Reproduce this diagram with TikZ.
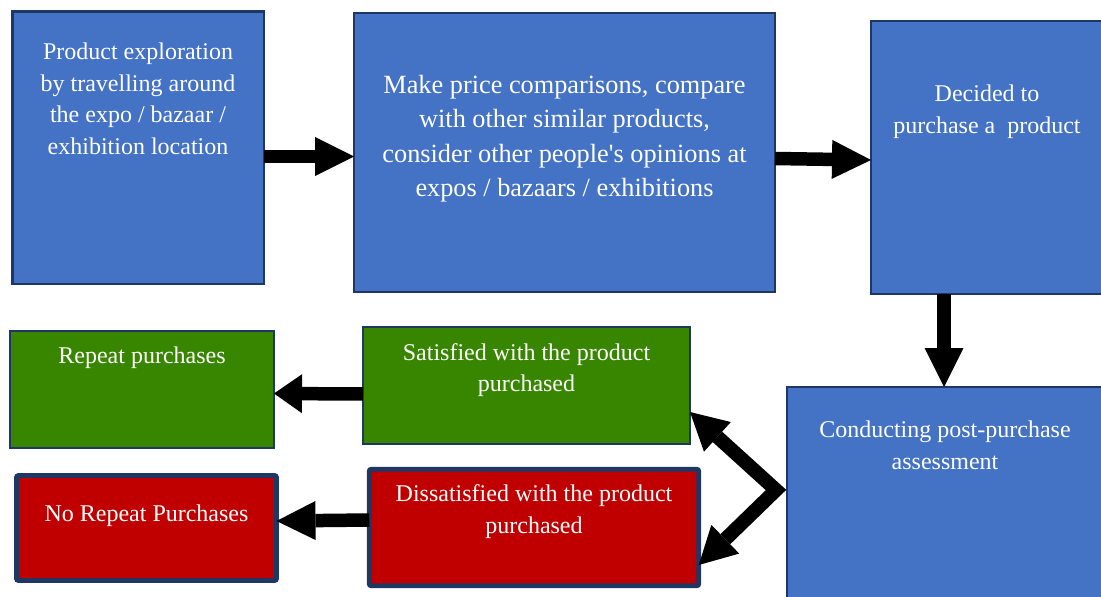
\documentclass[tikz,border=0pt]{standalone}
\usepackage{fontspec}
\setmainfont{Liberation Serif}
\usetikzlibrary{arrows.meta}

\definecolor{boxblue}{HTML}{4472C4}
\definecolor{boxgreen}{HTML}{388600}
\definecolor{boxred}{HTML}{C00000}
\definecolor{boxedge}{HTML}{1F3763}

\tikzset{
  flowbox/.style={draw=boxedge, line width=2.5pt, inner sep=0pt, outer sep=0pt},
  bluebox/.style={flowbox, fill=boxblue},
  greenbox/.style={flowbox, fill=boxgreen},
  redbox/.style={flowbox, fill=boxred, line width=4.8pt, rounded corners=2pt},
  % anchor=base sits on the baseline of the last line
  boxtext/.style={text=white, align=center, anchor=base, inner sep=0pt,
    font=\fontsize{24}{31.6}\selectfont},
  blockarrow/.style={draw=black, line width=13.5pt, -{Triangle[length=#1, width=39pt, line width=0pt]}},
  blockarrow/.default=39pt
}

\begin{document}
\begin{tikzpicture}[x=1pt, y=-1pt]
\useasboundingbox (0,0) rectangle (1101,597);
\clip (0,0) rectangle (1101,597);

% process boxes
\node[bluebox, minimum width=251.5pt, minimum height=272.5pt] (b1) at (138,147.5) {};
\node[bluebox, minimum width=421pt, minimum height=279pt] (b2) at (564.5,152.5) {};
\node[bluebox, minimum width=232pt, minimum height=273pt] (b3) at (987,157.5) {};
\node[bluebox, minimum width=316pt, minimum height=222pt] (b4) at (945,498) {};
\node[greenbox, minimum width=327pt, minimum height=117pt] (b5) at (526.5,385.5) {};
\node[greenbox, minimum width=264pt, minimum height=117pt] (b6) at (142,389.5) {};
\node[redbox, minimum width=329.5pt, minimum height=116.5pt] (b7) at (534,527.5) {};
\node[redbox, minimum width=260pt, minimum height=105pt] (b8) at (146.5,528) {};

% box labels
\node[boxtext] (t1) at (b1.center |- 0,154.3)
  {Product exploration\\by travelling around\\the expo / bazaar /\\exhibition location};
\node[boxtext, font=\fontsize{26.3}{34.4}\selectfont] (t2) at (b2.center |- 0,196.5)
  {Make price comparisons, compare\\with other similar products,\\consider other people\textquotesingle s opinions at\\expos / bazaars / exhibitions};
\node[boxtext] (t3) at (b3.center |- 0,133.3)
  {Decided to\\purchase a\ \ product};
\node[boxtext] (t4) at (b4.center |- 0,469)
  {Conducting post-purchase\\assessment};
\node[boxtext] (t5) at (b5.center |- 0,391.7)
  {Satisfied with the product\\purchased};
\node[boxtext] (t6) at (b6.center |- 0,363.5)
  {Repeat purchases};
\node[boxtext] (t7) at (b7.center |- 0,533.3)
  {Dissatisfied with the product\\purchased};
\node[boxtext] (t8) at (b8.center |- 0,521)
  {No Repeat Purchases};

% flow arrows
\coordinate (fork) at (776,490);
\draw[blockarrow] (b1.east |- 0,156.5) -- (b2.west |- 0,156.5);
\draw[blockarrow] (b2.east |- 0,158.5) -- (b3.west |- 0,160);
\draw[blockarrow] (944,0 |- b3.south) -- (944,0 |- b4.north);
\draw[blockarrow=28pt] (b5.west |- 0,394) -- (b6.east |- 0,393.5);
\draw[blockarrow] (b7.west |- 0,520) -- (b8.east |- 0,521);
\draw[draw=black, line width=14pt, line join=miter,
      {Triangle[length=37pt, width=40pt, line width=0pt]}-{Triangle[length=37pt, width=40pt, line width=0pt]}]
  (b5.east |- 0,412) -- (fork) -- (b7.east |- 0,565);
\end{tikzpicture}
\end{document}
